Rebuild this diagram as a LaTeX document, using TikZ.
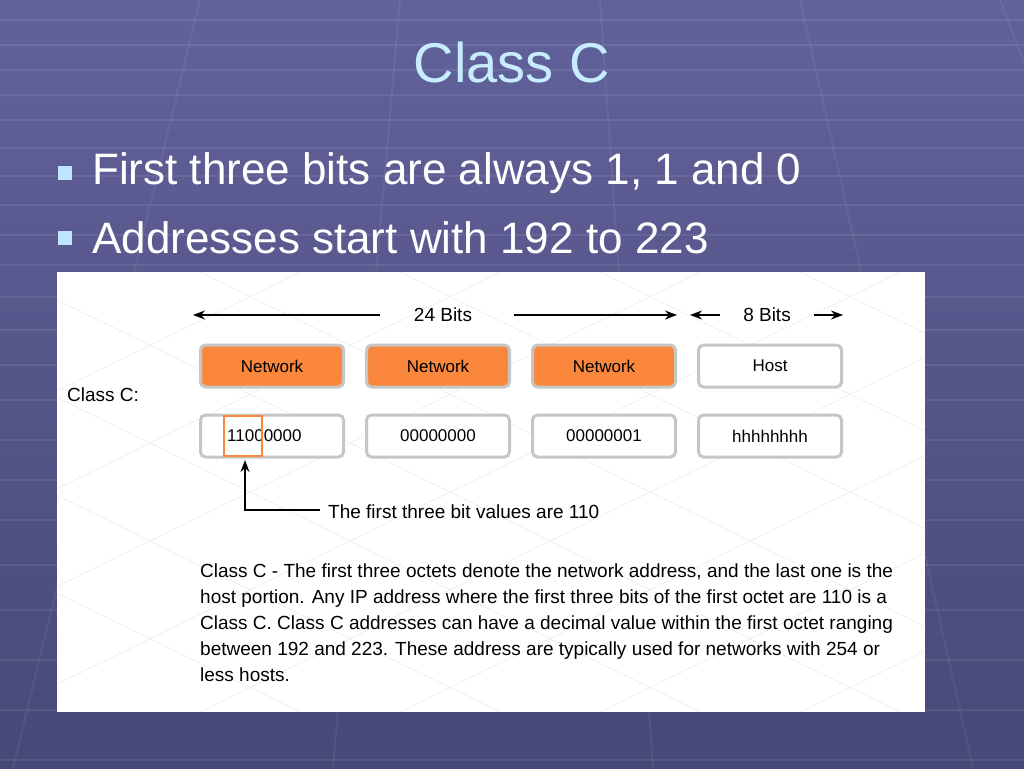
\documentclass[tikz,border=0pt]{standalone}
\usepackage{fontspec}
\setmainfont{Liberation Sans}
\usetikzlibrary{arrows.meta}
\definecolor{bgtop}{RGB}{98,98,155}
\definecolor{bgbot}{RGB}{72,72,120}
\definecolor{titlec}{RGB}{200,236,255}
\definecolor{bulc}{RGB}{190,230,255}
\definecolor{netc}{RGB}{250,135,60}
\begin{document}
\begin{tikzpicture}[x=1pt,y=-1pt,
  cell/.style={draw=gray!45,line width=3pt,rounded corners=5pt,minimum width=143pt,minimum height=42pt,inner sep=0pt,font=\fontsize{17}{17}\selectfont},
  net/.style={cell,fill=netc},
  wcell/.style={cell,fill=white},
  lbl/.style={font=\fontsize{19}{19}\selectfont},
  arr/.style={-{Stealth[length=12pt,width=9pt]},line width=1.5pt},
  bul/.style={font=\fontsize{44}{44}\selectfont,text=white,anchor=west,inner sep=0pt}]
\useasboundingbox (0,0) rectangle (1024,768);
\shade[top color=bgtop,bottom color=bgbot] (0,0) rectangle (1024,768);
\foreach \y in {20,45,70,95,120,148,176,205,235,265,297,330,365,400,440,480,520,565,610,660,710,760}
  \draw[white,opacity=0.08,line width=2pt] (0,\y) -- (1024,\y);
\foreach \x in {-200,0,200,400,600,800,1000,1200}
  \draw[white,opacity=0.06,line width=2pt] (\x,0) -- (512+1.6*\x-819,768);
\node[font=\fontsize{56}{56}\selectfont,text=titlec] (title) at (512,62) {Class C};
\fill[bulc] (58,166) rectangle (72,180);
\fill[bulc] (58,231) rectangle (72,245);
\node[bul] (b1) at (92,173) {First three bits are always 1, 1 and 0};
\node[bul] (b2) at (92,238) {Addresses start with 192 to 223};
\fill[white] (57,272) rectangle (925,712);
\begin{scope}
\clip (57,272) rectangle (925,712);
\foreach \x in {-600,-400,-200,0,200,400,600,800,1000}{
  \draw[gray!20] (\x,272) -- (\x+900,712);
  \draw[gray!20] (\x+900,272) -- (\x,712);}
\end{scope}
\node[net] (n1) at (272,366) {Network};
\node[net] (n2) at (438,366) {Network};
\node[net] (n3) at (604,366) {Network};
\node[wcell] (h) at (770,366) {Host};
\node[wcell] (o1) at (272,436) {};
\node[wcell] (o2) at (438,436) {00000000};
\node[wcell] (o3) at (604,436) {00000001};
\node[wcell] (o4) at (770,436) {hhhhhhhh};
\node[font=\fontsize{17}{17}\selectfont,inner sep=0pt,anchor=west] (o1t) at (227,436) {11000000};
\draw[netc,line width=1.8pt] (224,416) rectangle (262,456);
\coordinate (box) at (245,460);
\node[lbl,anchor=west,inner sep=0pt] (c) at (67,395) {Class C:};
\node[lbl] (b24) at (443,315) {24 Bits};
\node[lbl] (b8) at (767,315) {8 Bits};
\draw[arr] (b24.west)++(-30,0) -- (193,315);
\draw[arr] (b24.east)++(38,0) -- (677,315);
\draw[arr] (b8.west)++(-20,0) -- (690,315);
\draw[arr] (b8.east)++(20,0) -- (843,315);
\node[lbl,anchor=west,inner sep=0pt] (note) at (328,512) {The first three bit values are 110};
\draw[arr] (note.west)++(-8,-2) -- (245,510) -- (box);
\node[anchor=north west,inner sep=0pt,align=left,font=\fontsize{19}{26}\selectfont] (para) at (200,564) {Class C - The first three octets denote the network address, and the last one is the\\host portion. Any IP address where the first three bits of the first octet are 110 is a\\Class C. Class C addresses can have a decimal value within the first octet ranging\\between 192 and 223. These address are typically used for networks with 254 or\\less hosts.};
\end{tikzpicture}
\end{document}
